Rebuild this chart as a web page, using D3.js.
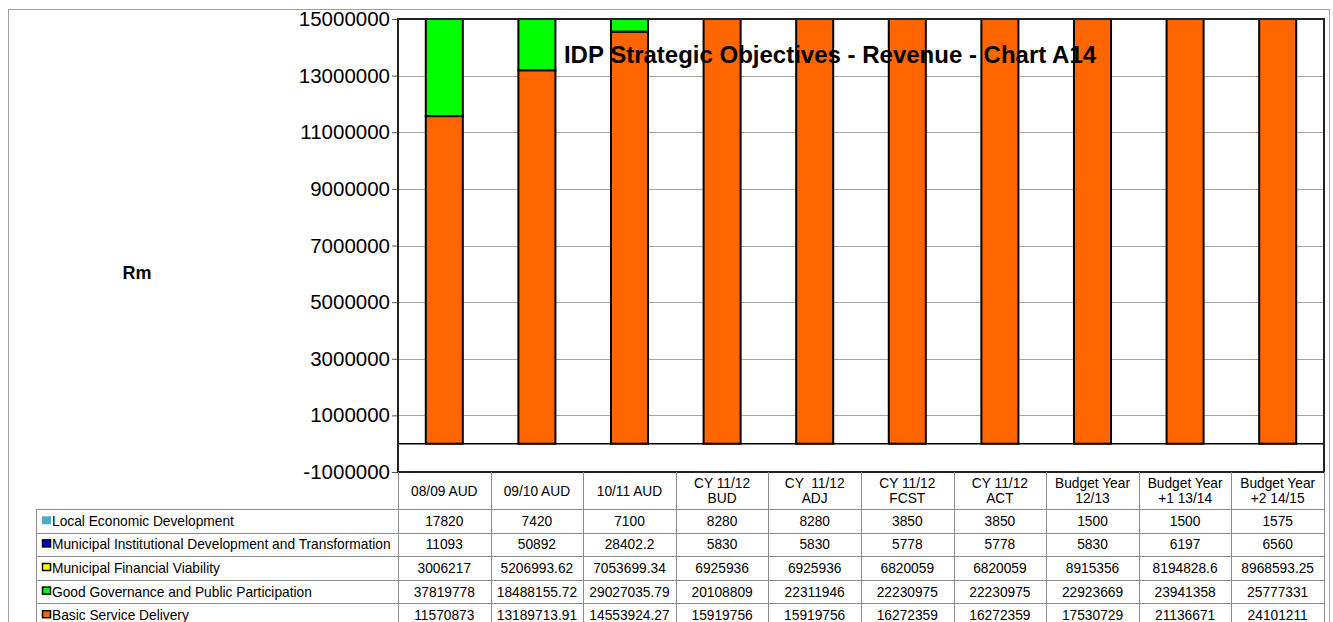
<!DOCTYPE html>
<html>
<head>
<meta charset="utf-8">
<script src="https://cdn.jsdelivr.net/npm/d3@7"></script>
<style>
	body { margin: 0; background: #fff; }
	svg { display: block; font-family: "Liberation Sans", Arial, sans-serif; }
</style>
</head>
<body>
<div id="chart"></div>
<script>
// categories and series
const categories = ["08/09 AUD", "09/10 AUD", "10/11 AUD", "CY 11/12\nBUD", "CY  11/12\nADJ", "CY 11/12\nFCST", "CY 11/12\nACT", "Budget Year\n12/13", "Budget Year\n+1 13/14", "Budget Year\n+2 14/15"];
const seriesNames = ["Local Economic Development", "Municipal Institutional Development and Transformation", "Municipal Financial Viability", "Good Governance and Public Participation", "Basic Service Delivery"];
const seriesColors = ["#4bacc6", "#0000ee", "#ffff00", "#00ff00", "#ff6600"];

const localEconomic = [17820, 7420, 7100, 8280, 8280, 3850, 3850, 1500, 1500, 1575];
const institutional = [11093, 50892, 28402.2, 5830, 5830, 5778, 5778, 5830, 6197, 6560];
const financial = [3006217, 5206993.62, 7053699.34, 6925936, 6925936, 6820059, 6820059, 8915356, 8194828.6, 8968593.25];
const governance = [37819778, 18488155.72, 29027035.79, 20108809, 22311946, 22230975, 22230975, 22923669, 23941358, 25777331];
const basicService = [11570873, 13189713.91, 14553924.27, 15919756, 15919756, 16272359, 16272359, 17530729, 21136671, 24101211];

const seriesValues = [localEconomic, institutional, financial, governance, basicService];
const yTicks = [-1000000, 1000000, 3000000, 5000000, 7000000, 9000000, 11000000, 13000000, 15000000];

const chartTitle = "IDP Strategic Objectives - Revenue - Chart A14";
const yTitle = "Rm";

const width = 1333;
const height = 622;
const plot = { left: 398, right: 1324, top: 19, bottom: 472 };

const svg = d3.select("#chart")
	.append("svg")
	.attr("width", width)
	.attr("height", height);

// outer frame
svg.append("rect")
	.attr("x", 8.5).attr("y", 9.5)
	.attr("width", 1321).attr("height", 700)
	.attr("fill", "none")
	.attr("stroke", "#a0a0a0");

const xScale = d3.scaleBand()
	.domain(categories)
	.range([plot.left, plot.right])
	.paddingInner(0.6)
	.paddingOuter(0.3);

// cells of the data table share the category step
const colScale = d3.scaleBand()
	.domain(categories)
	.range([plot.left, plot.right]);

const yScale = d3.scaleLinear()
	.domain([-1000000, 15000000])
	.range([plot.bottom, plot.top]);

// gridlines
svg.append("g")
	.selectAll("line")
	.data(yTicks.slice(1, -1))
	.enter()
	.append("line")
	.attr("x1", plot.left).attr("x2", plot.right)
	.attr("y1", d => Math.round(yScale(d)) + 0.5)
	.attr("y2", d => Math.round(yScale(d)) + 0.5)
	.attr("stroke", "#a6a6a6");

// y axis
const yAxis = d3.axisLeft(yScale)
	.tickValues(yTicks)
	.tickSize(6)
	.tickFormat(d => String(d));

const yAxisG = svg.append("g")
	.attr("transform", `translate(${plot.left}, 0)`)
	.call(yAxis);
yAxisG.select(".domain").remove();
yAxisG.selectAll(".tick line").attr("stroke", "#555");
yAxisG.selectAll(".tick text")
	.attr("x", -8)
	.attr("fill", "#000")
	.style("font-size", "20.5px")
	.style("font-family", "'Liberation Sans', Arial, sans-serif");

// stacked bars, Basic Service Delivery at the bottom
const rows = categories.map((c, i) => {
	const row = { category: c };
	seriesNames.forEach((s, k) => row[s] = seriesValues[k][i]);
	return row;
});
const stackKeys = seriesNames.slice().reverse();
const stacked = d3.stack().keys(stackKeys)(rows);

svg.append("clipPath")
	.attr("id", "plotClip")
	.append("rect")
	.attr("x", plot.left).attr("y", plot.top)
	.attr("width", plot.right - plot.left)
	.attr("height", plot.bottom - plot.top);

const barsG = svg.append("g").attr("clip-path", "url(#plotClip)");

barsG.selectAll("g")
	.data(stacked)
	.enter()
	.append("g")
	.attr("fill", d => seriesColors[seriesNames.indexOf(d.key)])
	.selectAll("rect")
	.data(d => d)
	.enter()
	.append("rect")
	.attr("x", d => xScale(d.data.category))
	.attr("width", xScale.bandwidth())
	.attr("y", d => yScale(d[1]))
	.attr("height", d => yScale(d[0]) - yScale(d[1]))
	.attr("stroke", "#000")
	.attr("stroke-width", 2);

// zero line
svg.append("line")
	.attr("x1", plot.left).attr("x2", plot.right)
	.attr("y1", yScale(0)).attr("y2", yScale(0))
	.attr("stroke", "#000")
	.attr("stroke-width", 1.5);

// plot frame
svg.append("rect")
	.attr("x", plot.left).attr("y", plot.top)
	.attr("width", plot.right - plot.left)
	.attr("height", plot.bottom - plot.top)
	.attr("fill", "none")
	.attr("stroke", "#222")
	.attr("stroke-width", 2);

// title
svg.append("text")
	.attr("x", 830)
	.attr("y", 63)
	.attr("text-anchor", "middle")
	.style("font-size", "24px")
	.style("font-weight", "bold")
	.text(chartTitle);

svg.append("text")
	.attr("x", 137)
	.attr("y", 279)
	.attr("text-anchor", "middle")
	.style("font-size", "18px")
	.style("font-weight", "bold")
	.text(yTitle);

// data table
const tableTop = plot.bottom;
const headerBottom = 509;
const rowH = 23.6;
const tableBottom = height + 20;
const legendLeft = 36;
const gridColor = "#8c8c8c";
const cellFont = "13.75px";

const tableG = svg.append("g");

// vertical cell borders
const colEdges = categories.map(c => colScale(c)).concat([plot.right]);
tableG.selectAll(".vline")
	.data(colEdges)
	.enter()
	.append("line")
	.attr("x1", d => Math.round(d) + 0.5).attr("x2", d => Math.round(d) + 0.5)
	.attr("y1", tableTop).attr("y2", tableBottom)
	.attr("stroke", gridColor);

tableG.append("line")
	.attr("x1", legendLeft + 0.5).attr("x2", legendLeft + 0.5)
	.attr("y1", headerBottom).attr("y2", tableBottom)
	.attr("stroke", gridColor);

// horizontal row borders
tableG.selectAll(".hline")
	.data(d3.range(seriesNames.length + 1))
	.enter()
	.append("line")
	.attr("x1", legendLeft).attr("x2", plot.right)
	.attr("y1", i => Math.round(headerBottom + i * rowH) + 0.5)
	.attr("y2", i => Math.round(headerBottom + i * rowH) + 0.5)
	.attr("stroke", gridColor);

// header labels
const headerMid = (tableTop + headerBottom) / 2;
categories.forEach(c => {
	const lines = c.split("\n");
	const t = tableG.append("text")
		.attr("text-anchor", "middle")
		.style("font-size", cellFont);
	lines.forEach((ln, j) => {
		t.append("tspan")
			.attr("x", colScale(c) + colScale.bandwidth() / 2)
			.attr("y", headerMid + 5 + (j - (lines.length - 1) / 2) * 15)
			.style("white-space", "pre")
			.text(ln);
	});
});

// legend rows and values
seriesNames.forEach((s, k) => {
	const mid = headerBottom + (k + 0.5) * rowH;
	tableG.append("rect")
		.attr("x", k === 0 ? 42 : 42.5).attr("y", mid - 4.5)
		.attr("width", k === 0 ? 9 : 8).attr("height", k === 0 ? 8 : 7)
		.attr("fill", seriesColors[k])
		.attr("stroke", k === 0 ? "none" : "#000")
		.attr("stroke-width", 1.5);
	tableG.append("text")
		.attr("x", 52)
		.attr("y", mid + 5)
		.style("font-size", cellFont)
		.text(s);
	categories.forEach((c, i) => {
		tableG.append("text")
			.attr("x", colScale(c) + colScale.bandwidth() / 2)
			.attr("y", mid + 5)
			.attr("text-anchor", "middle")
			.style("font-size", cellFont)
			.text(String(seriesValues[k][i]));
	});
});
</script>
</body>
</html>
